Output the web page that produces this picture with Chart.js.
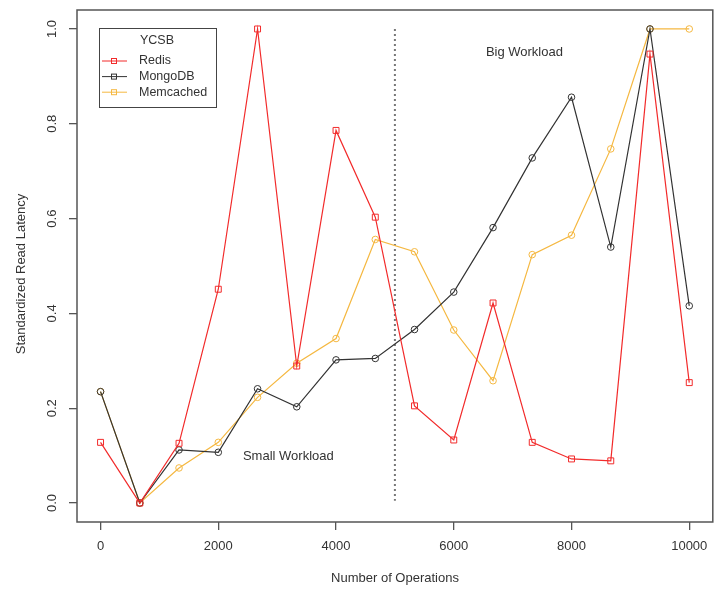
<!DOCTYPE html>
<html>
<head>
<meta charset="utf-8">
<script src="https://cdn.jsdelivr.net/npm/chart.js@4.4.1/dist/chart.umd.min.js"></script>
<style>
	body { margin: 0; background: #fff; overflow: hidden; }
	#chartCanvas { display: block; }
</style>
</head>
<body>
<!-- a little wider than the window: the points' overflow eats the right edge -->
<canvas id="chartCanvas" width="718" height="591"></canvas>
<script>
// data
var operations = [0, 667, 1333, 2000, 2667, 3333, 4000, 4667, 5333, 6000, 6667, 7333, 8000, 8667, 9333, 10000];
var redis = [0.128, 0, 0.126, 0.451, 1.0, 0.289, 0.786, 0.603, 0.205, 0.133, 0.422, 0.128, 0.093, 0.089, 0.947, 0.254];
var mongodb = [0.235, 0, 0.112, 0.107, 0.241, 0.203, 0.302, 0.305, 0.366, 0.445, 0.581, 0.728, 0.856, 0.540, 1.0, 0.416];
var memcached = [0.235, 0, 0.074, 0.128, 0.223, 0.295, 0.347, 0.556, 0.530, 0.365, 0.258, 0.524, 0.565, 0.747, 1.0, 1.0];
var xTicks = [0, 2000, 4000, 6000, 8000, 10000];
var yTicks = [0, 0.2, 0.4, 0.6, 0.8, 1.0];
var splitAt = 5000;

var font = "'Liberation Sans', Arial, sans-serif";
var axisColor = '#555';

function toPoints(ys) {
	var pts = [];
	for (var i in ys) {
		pts.push({x: operations[i], y: ys[i]});
	}
	return pts;
}

//box, divider, annotations and R-style legend
var extras = {
	id: 'extras',
	beforeDatasetsDraw: function(chart) {
		var ctx = chart.ctx;
		var xs = chart.scales.x, ys = chart.scales.y;
		var px = xs.getPixelForValue(splitAt);
		ctx.save();
		ctx.strokeStyle = '#777';
		ctx.lineWidth = 2;
		ctx.setLineDash([2, 3]);
		ctx.beginPath();
		ctx.moveTo(px, ys.getPixelForValue(1.0));
		ctx.lineTo(px, ys.getPixelForValue(0.005));
		ctx.stroke();
		ctx.restore();
	},
	afterDraw: function(chart) {
		var ctx = chart.ctx;
		var a = chart.chartArea;
		var xs = chart.scales.x, ys = chart.scales.y;
		ctx.save();
		ctx.strokeStyle = axisColor;
		ctx.lineWidth = 1.5;
		ctx.strokeRect(a.left, a.top, a.right - a.left, a.bottom - a.top);

		ctx.fillStyle = '#333';
		ctx.font = '13px ' + font;
		ctx.textAlign = 'center';
		ctx.textBaseline = 'middle';
		ctx.fillText('Small Workload', xs.getPixelForValue(3190), ys.getPixelForValue(0.098));
		ctx.fillText('Big Workload', xs.getPixelForValue(7200), ys.getPixelForValue(0.951));

		//y tick labels, rotated like R
		yTicks.forEach(function(v) {
			ctx.save();
			ctx.translate(52, ys.getPixelForValue(v));
			ctx.rotate(-Math.PI / 2);
			ctx.fillText(v.toFixed(1), 0, 0);
			ctx.restore();
		});
		xTicks.forEach(function(v) {
			ctx.fillText(String(v), xs.getPixelForValue(v), 546);
		});
		ctx.fillText('Number of Operations', 395, 578);
		ctx.save();
		ctx.translate(21, 274);
		ctx.rotate(-Math.PI / 2);
		ctx.fillText('Standardized Read Latency', 0, 0);
		ctx.restore();

		//legend box
		ctx.font = '12.5px ' + font;
		ctx.fillStyle = '#fff';
		ctx.fillRect(99, 28, 118, 80);
		ctx.strokeStyle = '#444';
		ctx.lineWidth = 1;
		ctx.strokeRect(99.5, 28.5, 117, 79);
		ctx.fillStyle = '#333';
		ctx.fillText('YCSB', 157, 41);
		ctx.textAlign = 'left';
		chart.data.datasets.forEach(function(ds, k) {
			var yy = 61 + k * 15.6;
			ctx.strokeStyle = ds.borderColor;
			ctx.beginPath();
			ctx.moveTo(102, yy);
			ctx.lineTo(127, yy);
			ctx.stroke();
			ctx.strokeRect(111.5, yy - 2.5, 5, 5);
			ctx.fillStyle = '#333';
			ctx.fillText(ds.label, 139, yy);
		});
		ctx.restore();
	}
};

var chartdata = {
	datasets: [
		{
			label: 'Redis',
			data: toPoints(redis),
			borderColor: '#f22b2b',
			pointStyle: 'rect',
			pointRadius: 4.2
		},
		{
			label: 'MongoDB',
			data: toPoints(mongodb),
			borderColor: '#333333',
			pointStyle: 'circle',
			pointRadius: 3.3
		},
		{
			label: 'Memcached',
			data: toPoints(memcached),
			borderColor: '#f5b841',
			pointStyle: 'circle',
			pointRadius: 3.3
		}
	]
};
chartdata.datasets.forEach(function(ds) {
	ds.borderWidth = 1.2;
	ds.pointBorderColor = ds.borderColor;
	ds.pointBackgroundColor = 'rgba(0,0,0,0)';
	ds.pointBorderWidth = 1;
	ds.tension = 0;
});

var ctx = document.getElementById('chartCanvas');
var lineGraph = new Chart(ctx, {
	type: 'line',
	data: chartdata,
	plugins: [extras],
	options: {
		responsive: false,
		animation: false,
		layout: { padding: { top: 10, right: 0, left: 0, bottom: 0 } },
		plugins: { legend: { display: false }, tooltip: { enabled: false } },
		scales: {
			x: {
				type: 'linear',
				min: -400,
				max: 10400,
				afterBuildTicks: function(s) { s.ticks = xTicks.map(function(v) { return {value: v}; }); },
				afterFit: function(s) { s.height = 69; s.paddingLeft = 0; s.paddingRight = 0; },
				grid: { drawOnChartArea: false, tickLength: 8, color: axisColor, lineWidth: 1.3 },
				border: { display: false },
				ticks: { display: false }
			},
			y: {
				min: -0.04,
				max: 1.04,
				afterBuildTicks: function(s) { s.ticks = yTicks.map(function(v) { return {value: v}; }); },
				afterFit: function(s) { s.width = 77; s.paddingTop = 0; s.paddingBottom = 0; },
				grid: { drawOnChartArea: false, tickLength: 8, color: axisColor, lineWidth: 1.3 },
				border: { display: false },
				ticks: { display: false }
			}
		}
	}
});
</script>
</body>
</html>
